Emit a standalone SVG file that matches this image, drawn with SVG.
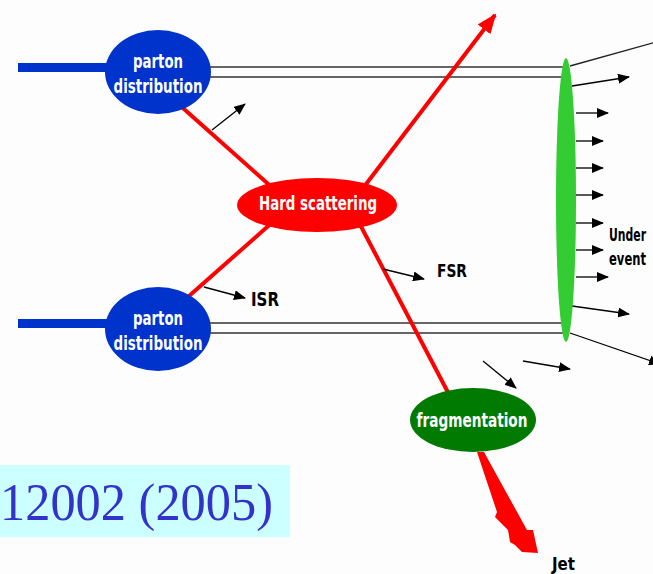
<svg xmlns="http://www.w3.org/2000/svg" width="653" height="574" viewBox="0 0 653 574">
<defs>
<style>
.lbl{font-family:"DejaVu Sans Condensed","DejaVu Sans",sans-serif;font-weight:bold;fill:#fff}
.blk{font-family:"DejaVu Sans Condensed","DejaVu Sans",sans-serif;font-weight:bold;fill:#000}
.red{stroke:#ff0000;stroke-width:4;fill:none}
.thin{stroke:#222;stroke-width:1.3;fill:none}
.arr{stroke:#000;stroke-width:1.3;fill:none;marker-end:url(#ah)}
.dbl{stroke:#333;stroke-width:1.6;fill:none}
</style>
<marker id="ah" markerWidth="12" markerHeight="10" refX="11" refY="5" orient="auto" markerUnits="userSpaceOnUse">
<path d="M0,0 L12,5 L0,10 Z" fill="#000"/>
</marker>
<marker id="rh" markerWidth="20" markerHeight="16" refX="18" refY="8" orient="auto" markerUnits="userSpaceOnUse">
<path d="M0,0 L20,8 L0,16 Z" fill="#ff0000"/>
</marker>
</defs>
<rect width="653" height="574" fill="#fdfdfd"/>
<g id="connectors">
<rect x="18" y="63" width="92" height="9" fill="#0033cc"/>
<rect x="18" y="319" width="92" height="9" fill="#0033cc"/>
<line class="dbl" x1="205" y1="67" x2="564" y2="67"/>
<line class="dbl" x1="205" y1="77" x2="564" y2="77"/>
<line class="dbl" x1="205" y1="323" x2="564" y2="323"/>
<line class="dbl" x1="205" y1="333" x2="564" y2="333"/>
<line class="red" x1="175" y1="101" x2="275" y2="190"/>
<line class="red" x1="180" y1="304" x2="275" y2="220"/>
<line class="red" x1="355" y1="215" x2="452" y2="400"/>
<line class="red" x1="360" y1="192" x2="495" y2="15" style="marker-end:url(#rh)" />
<polygon points="477,452 484,452 527,530 533,530 538,553 522,552 515,545 510,542 508,530 495,517 497,512" fill="#ff0000"/>
<line class="arr" x1="212" y1="130" x2="245" y2="104"/>
<line class="arr" x1="204" y1="287" x2="245" y2="298"/>
<line class="arr" x1="383" y1="269" x2="424" y2="279"/>
<line class="arr" x1="483" y1="361" x2="516" y2="388"/>
<line class="arr" x1="523" y1="361" x2="570" y2="369"/>
<line class="thin" x1="570" y1="66" x2="660" y2="41"/>
<line class="arr" x1="572" y1="86" x2="629" y2="77"/>
<line class="arr" x1="576" y1="113" x2="608" y2="113"/>
<line class="arr" x1="576" y1="141" x2="603" y2="141"/>
<line class="arr" x1="576" y1="168" x2="603" y2="168"/>
<line class="arr" x1="576" y1="195" x2="603" y2="195"/>
<line class="arr" x1="576" y1="223" x2="603" y2="223"/>
<line class="arr" x1="576" y1="250" x2="603" y2="250"/>
<line class="arr" x1="576" y1="277" x2="608" y2="277"/>
<line class="arr" x1="572" y1="306" x2="629" y2="314"/>
<line class="arr" x1="570" y1="333" x2="660" y2="364"/>
</g>
<g id="parton-top">
<ellipse cx="158" cy="72" rx="53" ry="42" fill="#0033cc"/>
<text class="lbl" x="158" y="68" font-size="19" text-anchor="middle" textLength="50" lengthAdjust="spacingAndGlyphs">parton</text>
<text class="lbl" x="158" y="93" font-size="19" text-anchor="middle" textLength="89" lengthAdjust="spacingAndGlyphs">distribution</text>
</g>
<g id="parton-bottom">
<ellipse cx="158" cy="329" rx="53" ry="42" fill="#0033cc"/>
<text class="lbl" x="158" y="325" font-size="19" text-anchor="middle" textLength="50" lengthAdjust="spacingAndGlyphs">parton</text>
<text class="lbl" x="158" y="350" font-size="19" text-anchor="middle" textLength="89" lengthAdjust="spacingAndGlyphs">distribution</text>
</g>
<g id="hard-scattering">
<ellipse cx="317" cy="205" rx="80" ry="27" fill="#ff0000"/>
<text class="lbl" x="318" y="210" font-size="19" text-anchor="middle" textLength="118" lengthAdjust="spacingAndGlyphs">Hard scattering</text>
</g>
<g id="fragmentation">
<ellipse cx="473" cy="420" rx="63" ry="32" fill="#007a00"/>
<text class="lbl" x="472" y="427" font-size="19" text-anchor="middle" textLength="111" lengthAdjust="spacingAndGlyphs">fragmentation</text>
</g>
<g id="underlying-event">
<ellipse cx="566" cy="200" rx="10" ry="142" fill="#33cc33"/>
<text class="blk" x="609" y="241" font-size="18" textLength="37" lengthAdjust="spacingAndGlyphs">Under</text>
<text class="blk" x="609" y="265" font-size="18" textLength="37" lengthAdjust="spacingAndGlyphs">event</text>
</g>
<g id="labels">
<text class="blk" x="251" y="306" font-size="19" textLength="28" lengthAdjust="spacingAndGlyphs">ISR</text>
<text class="blk" x="437" y="277" font-size="18" textLength="30" lengthAdjust="spacingAndGlyphs">FSR</text>
<text class="blk" x="552" y="570" font-size="18" textLength="23" lengthAdjust="spacingAndGlyphs">Jet</text>
</g>
<g id="reference">
<rect x="0" y="465" width="290" height="72" fill="#ccffff"/>
<text x="0" y="520" font-family="'Liberation Serif','Times New Roman',serif" font-size="53" fill="#3333cc" textLength="273" lengthAdjust="spacingAndGlyphs">12002 (2005)</text>
</g>
</svg>
